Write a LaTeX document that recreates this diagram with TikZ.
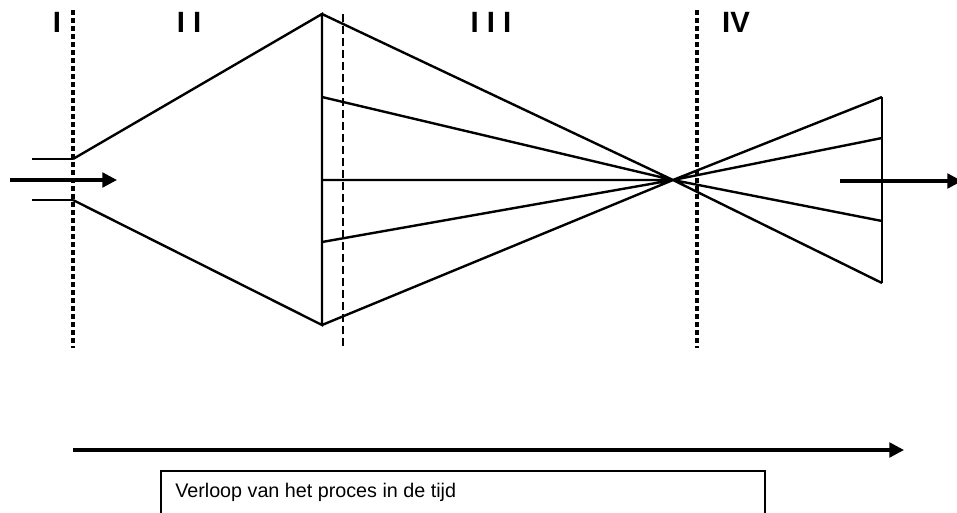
\documentclass[tikz,border=0pt]{standalone}
\usepackage{fontspec}
\setmainfont{Liberation Sans}
\usetikzlibrary{arrows.meta}
\tikzset{
  wall/.style={line width=1.8pt},
  phase/.style={line width=2.4pt,dash pattern=on 4pt off 2pt},
  thindash/.style={line width=0.9pt,dash pattern=on 6pt off 3pt},
  flow/.style={line width=2.4pt,-{Triangle[length=11pt,width=11pt]}},
  numeral/.style={font=\fontsize{22}{22}\selectfont\bfseries,inner sep=0pt}
}

\begin{document}
\begin{tikzpicture}[x=0.75pt,y=-0.75pt]
    \useasboundingbox (0,0) rectangle (957,512);
    % phase boundaries
    \coordinate (b1t) at (73,10);  \coordinate (b1b) at (73,348);
    \coordinate (b2t) at (343,14); \coordinate (b2b) at (343,348);
    \coordinate (b4t) at (697,10); \coordinate (b4b) at (697,348);
    \draw[phase] (b1t) -- (b1b);
    \draw[phase] (b4t) -- (b4b);
    \draw[thindash] (b2t) -- (b2b);
    \node[numeral] (I) at (57,22) {I};
    \node[numeral] (II) at (189,22) {I I};
    \node[numeral] (III) at (491,22) {I I I};
    \node[numeral] (IV) at (736,22) {IV};
    % inlet
    \coordinate (it) at (73,159);  \coordinate (ib) at (73,200);
    \coordinate (pt) at (32,159);  \coordinate (pb) at (32,200);
    \coordinate (ai) at (10,180);  \coordinate (ae) at (117,180);
    \draw[wall] (pt) -- (it) (pb) -- (ib);
    \draw[flow] (ai) -- (ae);
    % spreading cone
    \coordinate (w1) at (322,14);
    \coordinate (w2) at (322,97);
    \coordinate (w3) at (322,180);
    \coordinate (w4) at (322,242);
    \coordinate (w5) at (322,325);
    \coordinate (F) at (673,180);
    \draw[wall] (it) -- (w1) -- (w5) -- (ib);
    \draw[wall] (w1) -- (F) (w2) -- (F) (w3) -- (F) (w4) -- (F) (w5) -- (F);
    % second cone
    \coordinate (r1) at (882,97);
    \coordinate (r2) at (882,138);
    \coordinate (r4) at (882,221);
    \coordinate (r5) at (882,283);
    \draw[wall] (r1) -- (r5);
    \draw[wall] (F) -- (r1) (F) -- (r2) (F) -- (r4) (F) -- (r5);
    \coordinate (ao) at (840,181); \coordinate (aoe) at (962,181);
    \draw[flow] (ao) -- (aoe);
    % time axis
    \coordinate (t0) at (73,450); \coordinate (t1) at (904,450);
    \draw[flow] (t0) -- (t1);
    \node[draw,line width=1.4pt,minimum width=453pt,minimum height=40pt,anchor=north west,
      inner sep=0pt] (box) at (160,470) {};
    \node[anchor=west,font=\fontsize{14.8}{14.8}\selectfont,inner sep=0pt] (time) at (175,492)
      {Verloop van het proces in de tijd};
\end{tikzpicture}
\end{document}
